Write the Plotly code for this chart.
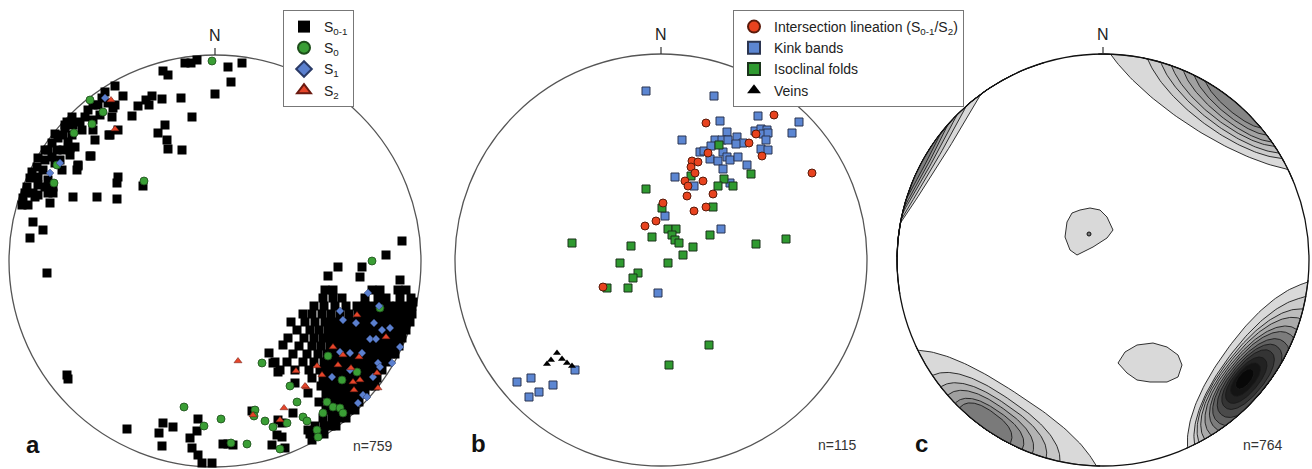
import numpy as np
import plotly.graph_objects as go

W, H = 1312, 469
NET_R = 206          # radius of the primitive circle, in net units
FONT = "Liberation Sans, Arial, Helvetica, sans-serif"

# ---------------- panel a : poles to planes (east, north on the net) ----------------
A_S01 = [(-30,198),(-24,198),(-18,201),(13,194),(27,198),(16,179),(0,167),(-52,190),(-47,186),
         (-100,175),(-92,165),(-77,155),(-69,161),(-63,165),(-66,156),(-53,162),(-34,163),(-23,144),
         (-83,145),(-105,126),(-57,128),(-50,136),(-48,121),(-47,112),(-33,111),(-100,156),(-125,105),
         (-137,95),(-142,64),(-118,64),(-98,62),(-98,78),(-97,84),(-72,75),(-182,39),(-172,31),(-185,23),
         (-168,-12),(-148,-114),(-147,-118),(-124,105),
         # NW girdle
         (-110,169),(-113,163),(-107,158),(-102,153),(-103,144),(-97,131),(-106,126),(-122,156),(-127,151),
         (-130,144),(-122,141),(-135,139),(-143,144),(-148,139),(-150,133),(-143,126),(-133,131),(-122,131),
         (-147,119),(-145,113),(-157,123),(-163,118),(-167,111),(-158,111),(-163,104),(-170,101),(-177,103),
         (-178,94),(-172,91),(-183,89),(-185,83),(-177,84),(-167,81),(-170,74),(-177,76),(-188,74),(-190,68),
         (-182,68),(-177,66),(-167,68),(-162,68),(-165,58),(-192,63),(-153,91),(-138,91),(-137,96),(-140,114),
         (-160,127),(-160,98),(-170,111),(-180,64),(-162,74),(-152,111),(-152,126),(-142,136),(-117,156),
         (-155,101),(-145,106),(-187,56),(-193,56),(-115,146),(-120,121),(-150,136),
         # SE outliers
         (187,20),(171,6),(147,-6),(123,-6),(113,-15),(145,-16),(185,-19),(198,-41),
         (80,-122),(93,-132),(54,-92),(68,-84),
         # southern scatter
         (-88,-168),(-52,-162),(-56,-172),(-42,-166),(-53,-185),(-17,-158),(-18,-170),(-25,-177),(-23,-187),
         (-17,-194),(-13,-202),(-3,-202),(8,-183),(13,-183),(18,-184),(37,-150),(58,-102),(63,-111),
         (63,-159),(62,-174),(67,-176),(57,-184),(70,-187),(78,-152),(67,-162),(93,-169),(97,-179)]
# SE maximum, listed by north value -> east values
A_S01_SE = {-29: [110,118,157,165,183,191],
            -37: [108,118,127,150,163,171,185,196],
            -45: [99,109,120,131,142,150,158,166,174,182,190,197],
            -53: [88,97,107,116,125,134,143,151,159,167,175,183,191,197],
            -61: [76,90,100,110,118,126,134,142,150,158,166,174,182,190,195],
            -69: [82,95,104,113,121,129,137,145,153,161,169,177,185,191],
            -77: [73,89,99,108,116,124,132,140,148,156,164,172,180,187],
            -85: [84,97,106,115,123,131,139,147,155,163,171,178,184],
            -93: [78,92,103,112,120,128,136,144,152,160,168,176,180],
            -101: [60,72,88,99,109,117,125,133,141,149,157,165,172],
            -109: [65,80,94,105,113,121,129,137,145,153,161,167],
            -117: [97,108,116,124,132,140,148,156,162],
            -125: [106,114,122,130,138,146,154,160],
            -133: [111,119,127,135,143,150],
            -141: [104,113,121,129,137,144],
            -149: [111,119,127,134,140],
            -157: [108,117,125,131],
            -165: [100,109,116,121],
            -173: [95,103,109]}
A_S0 = [(-3,200),(-125,161),(-112,149),(-123,137),(-141,128),(-158,96),(-161,78),(-71,80),(157,0),
        (165,-47),(47,-102),(75,-125),(82,-141),(113,-95),(112,-141),(118,-146),(125,-147),(128,-152),
        (108,-152),(88,-156),(92,-160),(102,-169),(103,-176),(72,-162),(58,-166),(50,-160),(40,-149),
        (39,-155),(65,-188),(32,-183),(16,-182),(6,-158),(-11,-165),(-31,-146),(142,-111),(127,-119)]
A_S1 = [(-110,163),(-155,98),(-165,88),(153,-32),(164,-45),(125,-50),(128,-59),(141,-62),(159,-62),
        (167,-69),(175,-67),(155,-78),(161,-78),(185,-86),(125,-91),(135,-92),(147,-92),(163,-102),
        (177,-102),(117,-116),(135,-109),(158,-116),(165,-106),(148,-134),(152,-136),(143,-142)]
A_S2 = [(-104,161),(-100,132),(23,-100),(69,-147),(91,-126),(81,-110),(142,-54),(118,-86),(128,-94),
        (144,-96),(171,-76),(123,-104),(136,-107),(138,-121),(145,-119),(162,-112),(139,-129),(163,-127),
        (102,-105),(107,-114),(90,-125),(65,-159),(38,-154)]

# ---------------- panel b : lineations ----------------
B_INTER = [(45,137),(113,145),(95,126),(88,117),(101,104),(47,107),(31,99),(37,98),(30,93),(34,87),
           (24,79),(27,74),(42,79),(52,66),(26,64),(33,49),(45,53),(2,57),(-5,39),(-16,34),(-58,-27),(151,87)]
B_KINK = [(-15,169),(53,164),(97,144),(59,139),(138,138),(131,127),(66,128),(21,120),(54,120),(61,120),
          (67,120),(76,123),(82,117),(75,116),(94,129),(100,131),(106,130),(102,126),(107,127),(105,120),
          (100,111),(107,110),(39,108),(43,109),(49,101),(57,99),(62,108),(66,103),(69,100),(77,103),
          (86,95),(62,91),(14,83),(33,74),(69,77),(4,44),(60,31),(-3,-33),(-86,-110),(-108,-125),
          (-130,-118),(-144,-122),(-122,-132),(-132,-137),(50,114)]
B_ISO = [(58,115),(30,84),(90,86),(63,81),(57,74),(72,74),(52,53),(-15,71),(1,52),(7,31),(15,31),(11,25),
         (14,20),(18,17),(-9,23),(-30,14),(32,13),(49,25),(22,5),(7,-3),(-41,-3),(-23,-13),(-28,-18),
         (-33,-28),(-54,-28),(95,16),(125,21),(-89,17),(48,-85),(8,-105)]
B_VEINS = [(-114,-104),(-110,-100),(-104,-93),(-99,-99),(-94,-103),(-89,-106)]

# ---------------- panel c : density contours ----------------
# each level: (azimuth of centre from east [deg], centre distance, half-length, half-width)
C_NE = [(57,206,137,46),(53.5,206,96,36),(52.5,206,84,30),(52,206,72,25),(51,206,62,20),(50.5,206,50,15),(50,206,38,10)]
C_NE_COL = ["#d9d9d9","#cbcbcb","#bdbdbd","#afafaf","#a1a1a1","#939393","#858585"]
C_NW = [(148,206,181,16),(150,206,140,12),(151,206,110,9),(152,206,85,6.5),(152,206,60,4)]
C_NW_COL = ["#d9d9d9","#c4c4c4","#acacac","#959595","#7d7d7d"]
C_SW = [(237,206,123,47),(236,206,80,38),(236,206,65,32),(235.5,206,52,27),(235.5,206,41,22),(234.5,206,31,18)]
C_SW_COL = ["#d9d9d9","#c6c6c6","#b3b3b3","#a0a0a0","#8d8d8d","#7a7a7a"]
C_SE = [(-36,206,115,53),(-37,204,100,45),(-38,201,88,40),(-38.5,198,78,35),(-39,196,68,31),(-39,194,60,27),
        (-39.5,192,52,23),(-39.5,190,44,19),(-39.5,188,36,15),(-40,187,28,12),(-40,186,20,9),(-40,185,12,6)]
C_SE_COL = ["#d9d9d9","#cbcbcb","#bcbcbc","#aaaaaa","#959595","#7c7c7c","#626262","#4a4a4a",
            "#343434","#222222","#141414","#080808"]
C_BLOB1 = [(-36,38),(-31,47),(-23,50),(-13,52),(-3,50),(4,43),(10,30),(4,22),(-10,13),(-26,5),(-33,10),(-38,23)]
C_BLOB2 = [(15,-103),(22,-92),(34,-85),(50,-83),(64,-87),(75,-95),(79,-105),(75,-117),(64,-122),(47,-122),(34,-120),(24,-113)]
C_DOT = [(-14,26)]

N_COUNTS = ["n=759", "n=115", "n=764"]
PANEL_LETTERS = ["a", "b", "c"]


def split(pts):
    return [p[0] for p in pts], [p[1] for p in pts]


def lens(ang, rc, a, b, p=2.0, n=200):
    th = np.radians(ang)
    rx, ry = np.cos(th), np.sin(th)
    tx, ty = -np.sin(th), np.cos(th)
    s = np.linspace(0, 2 * np.pi, n)
    c, si = np.cos(s), np.sin(s)
    u = a * np.sign(c) * np.abs(c) ** (2 / p)
    v = b * np.sign(si) * np.abs(si) ** (2 / p)
    x = rc * rx + u * tx + v * rx
    y = rc * ry + u * ty + v * ry
    r = np.hypot(x, y)
    k = np.where(r > NET_R, NET_R / r, 1.0)
    return x * k, y * k


fig = go.Figure()

# ---- panel a traces
se_pts = [(e, n) for n, es in A_S01_SE.items() for e in es]
x, y = split(A_S01 + se_pts)
fig.add_trace(go.Scatter(x=x, y=y, mode="markers", name="S<sub>0-1</sub>", legend="legend",
                         marker=dict(symbol="square", size=9, color="#000000", line=dict(width=0)),
                         xaxis="x", yaxis="y", hoverinfo="skip"))
x, y = split(A_S0)
fig.add_trace(go.Scatter(x=x, y=y, mode="markers", name="S<sub>0</sub>", legend="legend",
                         marker=dict(symbol="circle", size=8, color="#3a9e35", line=dict(width=0.8, color="#1d4d1a")),
                         xaxis="x", yaxis="y", hoverinfo="skip"))
x, y = split(A_S1)
fig.add_trace(go.Scatter(x=x, y=y, mode="markers", name="S<sub>1</sub>", legend="legend",
                         marker=dict(symbol="diamond", size=6, color="#5b80cf", line=dict(width=0.5, color="#2a3a66")),
                         xaxis="x", yaxis="y", hoverinfo="skip"))
x, y = split(A_S2)
fig.add_trace(go.Scatter(x=x, y=y, mode="markers", name="S<sub>2</sub>", legend="legend",
                         marker=dict(symbol="triangle-up", size=7, color="#e5452a", line=dict(width=0.5, color="#6a1a10")),
                         xaxis="x", yaxis="y", hoverinfo="skip"))

# ---- panel b traces
x, y = split(B_KINK)
fig.add_trace(go.Scatter(x=x, y=y, mode="markers", name="Kink bands", legend="legend2", legendrank=2,
                         marker=dict(symbol="square", size=8, color="#5c86d2", line=dict(width=1, color="#2b3550")),
                         xaxis="x2", yaxis="y2", hoverinfo="skip"))
x, y = split(B_ISO)
fig.add_trace(go.Scatter(x=x, y=y, mode="markers", name="Isoclinal folds", legend="legend2", legendrank=3,
                         marker=dict(symbol="square", size=8, color="#2f9a30", line=dict(width=1, color="#1b331b")),
                         xaxis="x2", yaxis="y2", hoverinfo="skip"))
x, y = split(B_INTER)
fig.add_trace(go.Scatter(x=x, y=y, mode="markers", name="Intersection lineation (S<sub>0-1</sub>/S<sub>2</sub>)",
                         legend="legend2", legendrank=1,
                         marker=dict(symbol="circle", size=8, color="#e8431f", line=dict(width=1, color="#5a1a0a")),
                         xaxis="x2", yaxis="y2", hoverinfo="skip"))
x, y = split(B_VEINS)
fig.add_trace(go.Scatter(x=x, y=y, mode="markers", name="Veins", legend="legend2", legendrank=4,
                         marker=dict(symbol="triangle-up", size=7, color="#000000", line=dict(width=0)),
                         xaxis="x2", yaxis="y2", hoverinfo="skip"))

# ---- panel c contours
def add_levels(levels, cols, p):
    for lev, col in zip(levels, cols):
        lx, ly = lens(*lev, p=p)
        fig.add_trace(go.Scatter(x=lx, y=ly, mode="lines", fill="toself", fillcolor=col,
                                 line=dict(color="#1a1a1a", width=0.9), showlegend=False,
                                 xaxis="x3", yaxis="y3", hoverinfo="skip"))

add_levels(C_NE, C_NE_COL, 2.0)
add_levels(C_NW, C_NW_COL, 2.0)
add_levels(C_SW, C_SW_COL, 2.5)
add_levels(C_SE, C_SE_COL, 2.2)
for blob in (C_BLOB1, C_BLOB2):
    bx, by = split(blob + blob[:1])
    fig.add_trace(go.Scatter(x=bx, y=by, mode="lines", fill="toself", fillcolor="#d9d9d9",
                             line=dict(color="#1a1a1a", width=0.9), showlegend=False,
                             xaxis="x3", yaxis="y3", hoverinfo="skip"))
dx, dy = split(C_DOT)
fig.add_trace(go.Scatter(x=dx, y=dy, mode="markers", showlegend=False, hoverinfo="skip",
                         marker=dict(size=4, color="#777", line=dict(width=1, color="#111")),
                         xaxis="x3", yaxis="y3"))

# ---- axes: one net per panel, 1 net unit = 1 px
centres = [(215, 261), (661, 260), (1103, 260)]
half = 209
shapes, annotations = [], []
for i, (cx, cy) in enumerate(centres):
    sfx = "" if i == 0 else str(i + 1)
    fig.layout["xaxis" + sfx] = dict(domain=[(cx - half) / W, (cx + half) / W], range=[-half, half],
                                     visible=False, fixedrange=True)
    fig.layout["yaxis" + sfx] = dict(domain=[0, 1], range=[cy - H, cy], visible=False, fixedrange=True)
    xr, yr = "x" + sfx, "y" + sfx
    shapes.append(dict(type="circle", xref=xr, yref=yr, x0=-NET_R, x1=NET_R, y0=-NET_R, y1=NET_R,
                       line=dict(color="#111" if i == 2 else "#555", width=1.3),
                       layer="above" if i == 2 else "below"))
    shapes.append(dict(type="line", xref=xr, yref=yr, x0=0, x1=0, y0=NET_R, y1=NET_R + 7,
                       line=dict(color="#333", width=1.2)))
    annotations.append(dict(text="N", xref=xr, yref=yr, x=0, y=NET_R + 20, showarrow=False,
                            font=dict(family=FONT, size=16, color="#222")))
    annotations.append(dict(text="<b>%s</b>" % PANEL_LETTERS[i], xref=xr, yref=yr, x=-182, y=-183,
                            showarrow=False, font=dict(family=FONT, size=24, color="#111")))
    annotations.append(dict(text=N_COUNTS[i], xref=xr, yref=yr, x=[158, 176, 160][i], y=-185,
                            showarrow=False, font=dict(family=FONT, size=14, color="#333")))

fig.update_layout(
    width=W, height=H, margin=dict(l=0, r=0, t=0, b=0),
    paper_bgcolor="white", plot_bgcolor="white",
    shapes=shapes, annotations=annotations, showlegend=True,
    legend=dict(x=283 / W, y=1 - 10 / H, xanchor="left", yanchor="top", bgcolor="white",
                bordercolor="#777", borderwidth=1, font=dict(family=FONT, size=14, color="#222"),
                itemsizing="constant", tracegroupgap=0, itemwidth=30),
    legend2=dict(x=733 / W, y=1 - 10 / H, xanchor="left", yanchor="top", bgcolor="white",
                 bordercolor="#777", borderwidth=1, font=dict(family=FONT, size=14, color="#222"),
                 itemsizing="constant", tracegroupgap=0, itemwidth=30),
)

fig.write_html("out.html")
